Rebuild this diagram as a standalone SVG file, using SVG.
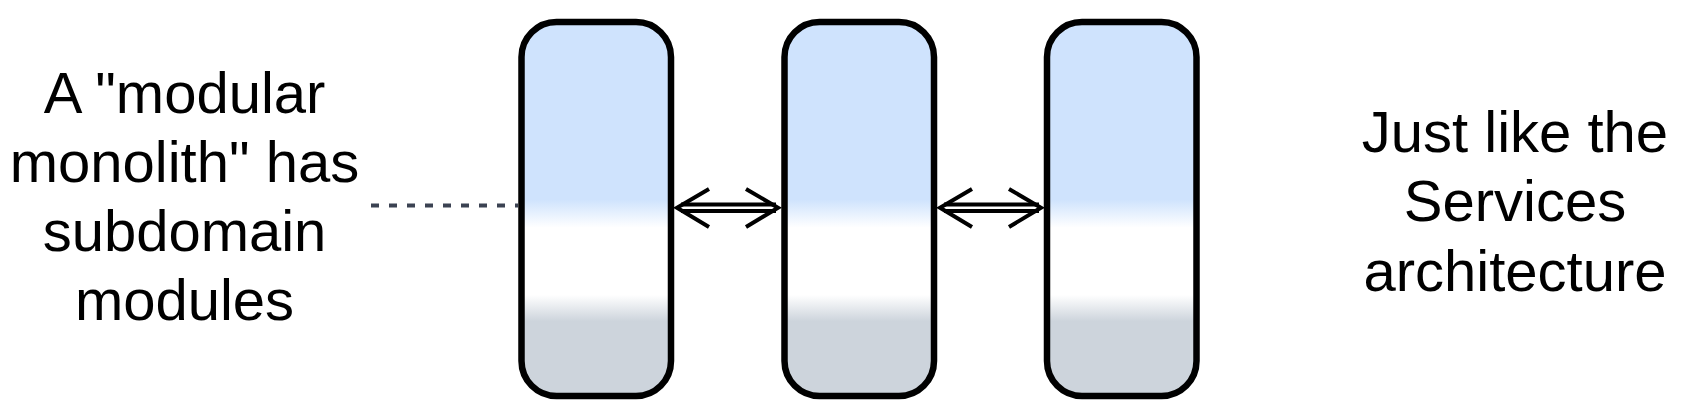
<svg xmlns="http://www.w3.org/2000/svg" width="1689" height="416" viewBox="0 0 1689 416">
  <defs>
    <linearGradient id="modfill" x1="0" y1="0" x2="0" y2="1">
      <stop offset="0" stop-color="#cfe3fd"/>
      <stop offset="0.475" stop-color="#cfe3fd"/>
      <stop offset="0.55" stop-color="#ffffff"/>
      <stop offset="0.73" stop-color="#ffffff"/>
      <stop offset="0.80" stop-color="#cdd4dc"/>
      <stop offset="1" stop-color="#cdd4dc"/>
    </linearGradient>
  </defs>
  <style>
    .mod { fill: url(#modfill); stroke: #000; stroke-width: 6.5; }
    .lbl { font-family: "Liberation Sans", Arial, sans-serif; font-size: 58px; fill: #000; text-anchor: middle; }
    .shaft { stroke: #000; stroke-width: 4; fill: none; }
    .head { stroke: #000; stroke-width: 4; fill: none; stroke-linejoin: miter; }
    .dash { stroke: #3b4252; stroke-width: 4; stroke-dasharray: 8 10; fill: none; }
  </style>
  <rect width="1689" height="416" fill="#ffffff"/>

  <g id="label-left">
    <text class="lbl" x="184.5" y="113">A "modular</text>
    <text class="lbl" x="184.5" y="182">monolith" has</text>
    <text class="lbl" x="184.5" y="251">subdomain</text>
    <text class="lbl" x="184.5" y="320">modules</text>
  </g>

  <g id="label-right">
    <text class="lbl" x="1515" y="152">Just like the</text>
    <text class="lbl" x="1515" y="221">Services</text>
    <text class="lbl" x="1515" y="291">architecture</text>
  </g>

  <g id="module-1">
    <rect class="mod" x="521.5" y="22" width="149.5" height="374" rx="35" ry="35"/>
  </g>
  <g id="module-2">
    <rect class="mod" x="784.5" y="22" width="149.5" height="374" rx="35" ry="35"/>
  </g>
  <g id="module-3">
    <rect class="mod" x="1047" y="22" width="149.5" height="374" rx="35" ry="35"/>
  </g>

  <g id="connectors">
    <line class="dash" x1="371" y1="205.5" x2="518" y2="205.5"/>
    <!-- double arrow 1 -->
    <line class="shaft" x1="681" y1="204.5" x2="776" y2="204.5"/>
    <line class="shaft" x1="681" y1="211" x2="776" y2="211"/>
    <polyline class="head" points="709,189 677,207.7 709,227"/>
    <polyline class="head" points="746,189 778,207.7 746,227"/>
    <!-- double arrow 2 -->
    <line class="shaft" x1="944" y1="204.5" x2="1039" y2="204.5"/>
    <line class="shaft" x1="944" y1="211" x2="1039" y2="211"/>
    <polyline class="head" points="972,189 940,207.7 972,227"/>
    <polyline class="head" points="1009,189 1041,207.7 1009,227"/>
  </g>
</svg>
